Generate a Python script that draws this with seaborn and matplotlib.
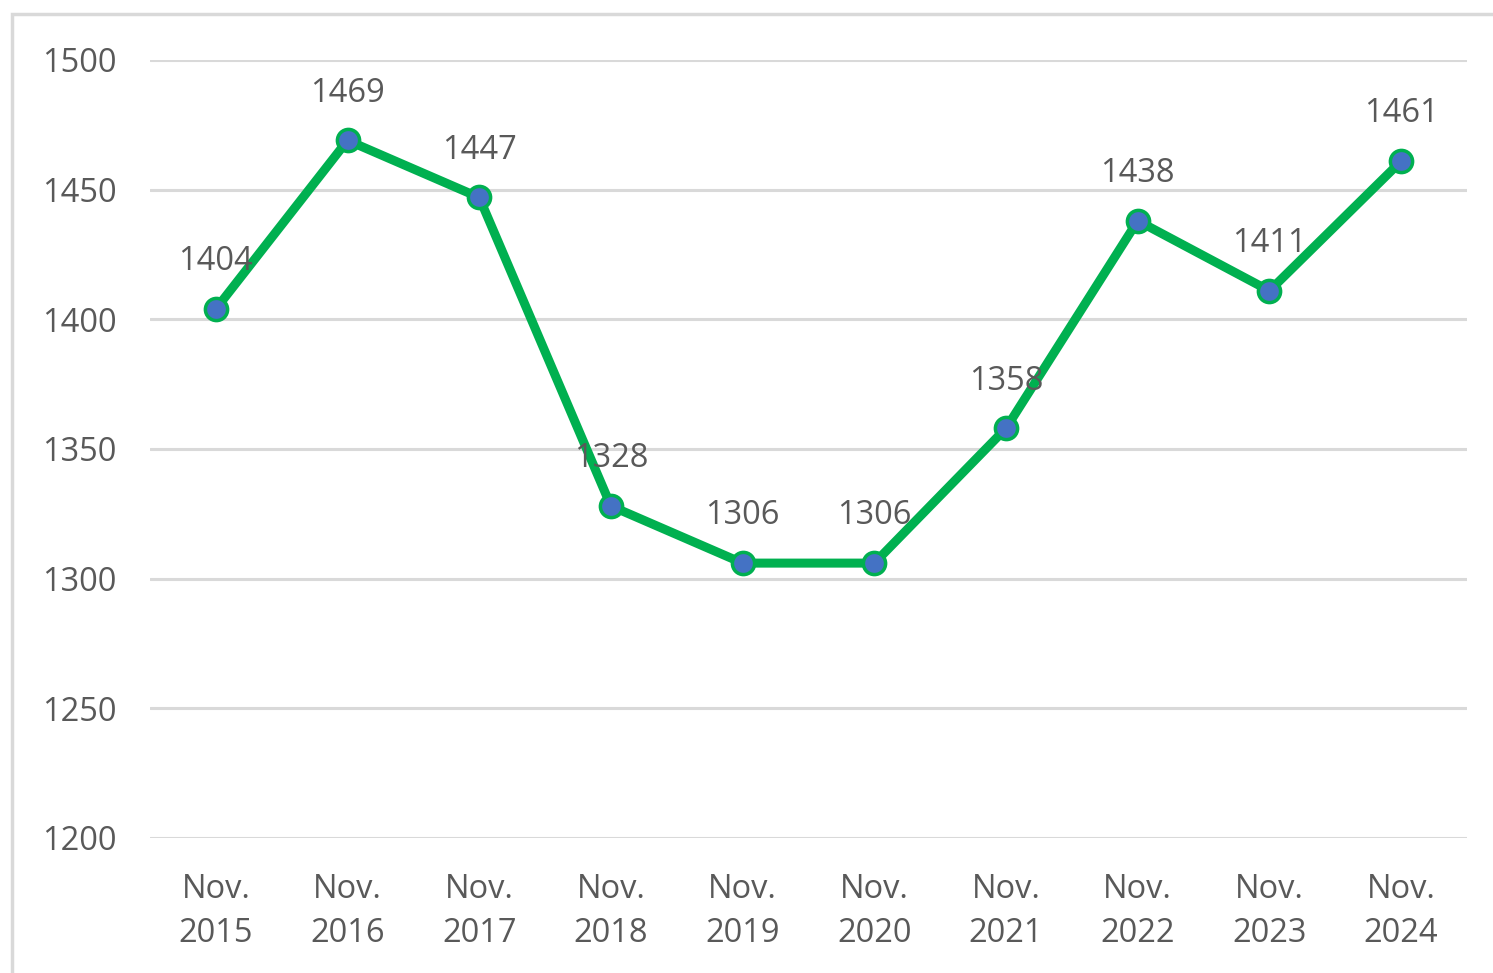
import matplotlib
matplotlib.use("Agg")
import matplotlib.pyplot as plt
import seaborn as sns
import pandas as pd
from matplotlib.patches import Rectangle

categories = ["Nov.\n2015", "Nov.\n2016", "Nov.\n2017", "Nov.\n2018", "Nov.\n2019",
              "Nov.\n2020", "Nov.\n2021", "Nov.\n2022", "Nov.\n2023", "Nov.\n2024"]
values = [1404, 1469, 1447, 1328, 1306, 1306, 1358, 1438, 1411, 1461]
y_ticks = [1200, 1250, 1300, 1350, 1400, 1450, 1500]

sns.set_theme(style="white")
plt.rcParams['font.family'] = ['Open Sans', 'DejaVu Sans']

TXT = "#595959"
FS = 23.5
fig = plt.figure(figsize=(14.93, 9.73), dpi=100)
ax = fig.add_axes([150/1493, 1-838/973, 1317/1493, 778/973])

# outer chart border
fig.patches.append(Rectangle((12/1493, -0.05), 1.2, 1-14/973+0.05, transform=fig.transFigure,
                             fill=False, edgecolor="#d9d9d9", linewidth=2.5, zorder=0))

df = pd.DataFrame({"cat": categories, "val": values})
sns.lineplot(data=df, x="cat", y="val", ax=ax, color="#00b050", linewidth=6.5,
             marker="o", markersize=16, markerfacecolor="#4472c4",
             markeredgecolor="#00b050", markeredgewidth=2.5, sort=False, zorder=3)

for i, v in enumerate(values):
    ax.annotate(str(v), (i, v), xytext=(0, 34), textcoords="offset points",
                ha="center", va="center", fontsize=FS, color=TXT, zorder=4)

ax.set_xlim(-0.5, len(categories) - 0.5)
ax.set_ylim(1200, 1500)
ax.set_yticks(y_ticks)
ax.set_yticklabels([str(t) for t in y_ticks])
ax.grid(axis="y", color="#d9d9d9", linewidth=2.2)
ax.grid(axis="x", visible=False)
ax.set_axisbelow(True)
for s in ax.spines.values():
    s.set_visible(False)
ax.tick_params(axis="both", length=0, labelsize=FS, labelcolor=TXT)
ax.tick_params(axis="y", pad=24)
ax.tick_params(axis="x", pad=25)
ax.set_xlabel("")
ax.set_ylabel("")
for lab in ax.get_xticklabels():
    lab.set_linespacing(1.45)

fig.savefig("out.png", dpi=100, facecolor="white")
